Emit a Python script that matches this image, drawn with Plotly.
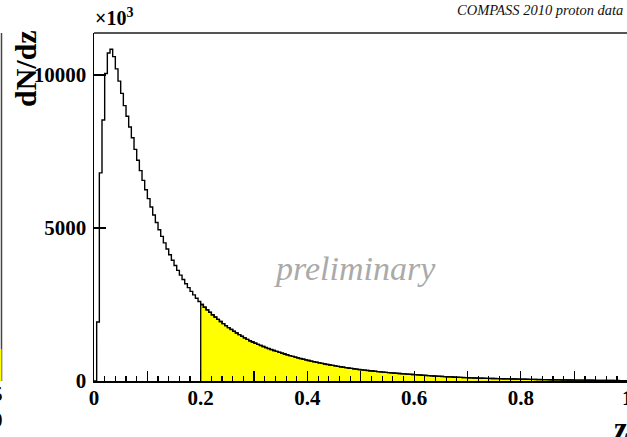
import plotly.graph_objects as go

# ---------------- data ----------------
bin_width = 0.005
n_bins = 200
# dN/dz per bin (units of 10^3), bins of 0.005 from z=0 to z=1
counts = [
    0, 1930, 6800, 8530, 10050, 10720, 10840, 10600, 10200, 9800,
    9400, 9000, 8650, 8300, 7950, 7570, 7215, 6875, 6555, 6250,
    5960, 5685, 5425, 5180, 4945, 4725, 4515, 4315, 4125, 3945,
    3775, 3615, 3460, 3315, 3180, 3050, 2930, 2815, 2705, 2600,
    2500, 2410, 2325, 2245, 2165, 2090, 2015, 1945, 1875, 1810,
    1745, 1685, 1625, 1570, 1515, 1460, 1410, 1360, 1315, 1275,
    1236, 1198, 1162, 1127, 1093, 1060, 1028, 997, 967, 938,
    910, 883, 856, 830, 805, 781, 757, 734, 712, 690,
    670, 650, 630, 611, 593, 575, 558, 541, 525, 509,
    494, 479, 465, 451, 437, 424, 411, 399, 387, 375,
    365, 355, 345, 335, 326, 317, 308, 299, 291, 283,
    275, 267, 260, 252, 245, 238, 232, 225, 219, 213,
    207, 200, 194, 187, 181, 175, 169, 164, 158, 153,
    148, 143, 139, 134, 130, 125, 121, 117, 113, 110,
    106, 103, 100, 97, 95, 92, 89, 87, 84, 82,
    80, 77, 75, 73, 71, 69, 67, 65, 63, 61,
    60, 58, 56, 54, 52, 50, 48, 47, 45, 44,
    42, 41, 39, 38, 36, 35, 34, 33, 32, 31,
    30, 29, 28, 27, 26, 25, 24, 23, 22, 21,
    20, 19, 18, 17, 16, 15, 14, 13, 12, 11,
]
z_cut = 0.2
x_tick_vals = [0, 0.1, 0.2, 0.3, 0.4, 0.5, 0.6, 0.7, 0.8, 0.9]
x_tick_text = ["0", " ", "0.2", " ", "0.4", " ", "0.6", " ", "0.8", " "]
y_tick_vals = [0, 5000, 10000]
y_tick_text = ["0", "5000", "10000"]

# ---------------- geometry ----------------
W, H = 627, 437
L, R, T, B = 94, 0, 33, 56
PW, PH = W - L - R, H - T - B


def px(x):
    return (x - L) / PW


def py(y):
    return (H - B - y) / PH


edges = [i * bin_width for i in range(n_bins + 1)]
xs = edges
ys = counts + [counts[-1]]

cut_idx = int(round(z_cut / bin_width))
fx = [edges[cut_idx]] + edges[cut_idx:]
fy = [0] + counts[cut_idx:] + [counts[-1]]

serif = "Liberation Serif"

fig = go.Figure()
fig.add_trace(go.Scatter(
    x=fx, y=fy, mode="lines", line=dict(shape="hv", color="black", width=1.3),
    fill="tozeroy", fillcolor="#ffff00", hoverinfo="skip", showlegend=False))
fig.add_trace(go.Scatter(
    x=xs, y=ys, mode="lines", line=dict(shape="hv", color="black", width=1.4),
    hoverinfo="skip", showlegend=False))

fig.update_layout(
    width=W, height=H, margin=dict(l=L, r=R, t=T, b=B, pad=0),
    paper_bgcolor="white", plot_bgcolor="white", showlegend=False,
    xaxis=dict(range=[0, PW / 533.6], tickmode="array", tickvals=x_tick_vals,
               ticktext=x_tick_text, ticks="inside", ticklen=10, tickwidth=1.2,
               tickcolor="black", showgrid=False, zeroline=False,
               showline=True, linecolor="black", linewidth=1.5,
               ticklabelstandoff=-3,
               tickfont=dict(family=serif, size=21, color="black", weight="bold"),
               minor=dict(tickmode="linear", tick0=0, dtick=0.02, ticks="inside",
                          ticklen=5, tickwidth=1.2, tickcolor="black", showgrid=False)),
    yaxis=dict(range=[0, PH * 32.68], tickmode="array", tickvals=y_tick_vals,
               ticktext=y_tick_text, ticks="inside", ticklen=12, tickwidth=1.2,
               tickcolor="black", showgrid=False, zeroline=False,
               showline=True, linecolor="black", linewidth=1.5,
               ticklabelstandoff=2,
               tickfont=dict(family=serif, size=21, color="black", weight="bold")),
)

shapes = [
    # top frame
    dict(type="line", xref="paper", yref="paper", x0=0, x1=1.01, y0=1, y1=1,
         line=dict(color="#555555", width=2)),
    # neighbouring panel's right frame
    dict(type="line", xref="paper", yref="paper", x0=px(1.5), x1=px(1.5),
         y0=py(33), y1=py(381), line=dict(color="#444444", width=1.5)),
    dict(type="rect", xref="paper", yref="paper", x0=px(-1), x1=px(1.5),
         y0=py(381), y1=py(349), fillcolor="#ffff00", line=dict(width=0)),
]
fig.update_layout(shapes=shapes)

ann = [
    dict(text="dN/dz", x=px(25), y=py(69), textangle=-90,
         font=dict(family=serif, size=30, color="black", weight="bold")),
    dict(text="×10<sup>3</sup>", x=px(93), y=py(31), xanchor="left", yanchor="bottom",
         font=dict(family=serif, size=20, color="black", weight="bold")),
    dict(text="COMPASS 2010 proton data", x=px(625), y=py(10), xanchor="right",
         yanchor="middle",
         font=dict(family=serif, size=14.5, color="#111111", style="italic")),
    dict(text="preliminary", x=px(355), y=py(268),
         font=dict(family=serif, size=34, color="#aaaaaa", style="italic")),
    dict(text="z", x=px(621), y=py(428),
         font=dict(family=serif, size=31, color="black", weight="bold")),
    dict(text="1", x=px(627.6), y=py(398),
         font=dict(family=serif, size=21, color="black", weight="bold")),
    dict(text="5", x=px(5), y=py(394), xanchor="right",
         font=dict(family=serif, size=21, color="black", weight="bold")),
    dict(text="0", x=px(5), y=py(420), xanchor="right",
         font=dict(family=serif, size=21, color="black", weight="bold")),
]
for a in ann:
    a.setdefault("xref", "paper")
    a.setdefault("yref", "paper")
    a.setdefault("showarrow", False)
    a.setdefault("xanchor", "center")
    a.setdefault("yanchor", "middle")
fig.update_layout(annotations=ann)

fig.write_html(
    "out.html",
    config={"displayModeBar": False, "staticPlot": True},
    post_script="document.body.style.margin='0';document.body.style.overflow='hidden';",
)
